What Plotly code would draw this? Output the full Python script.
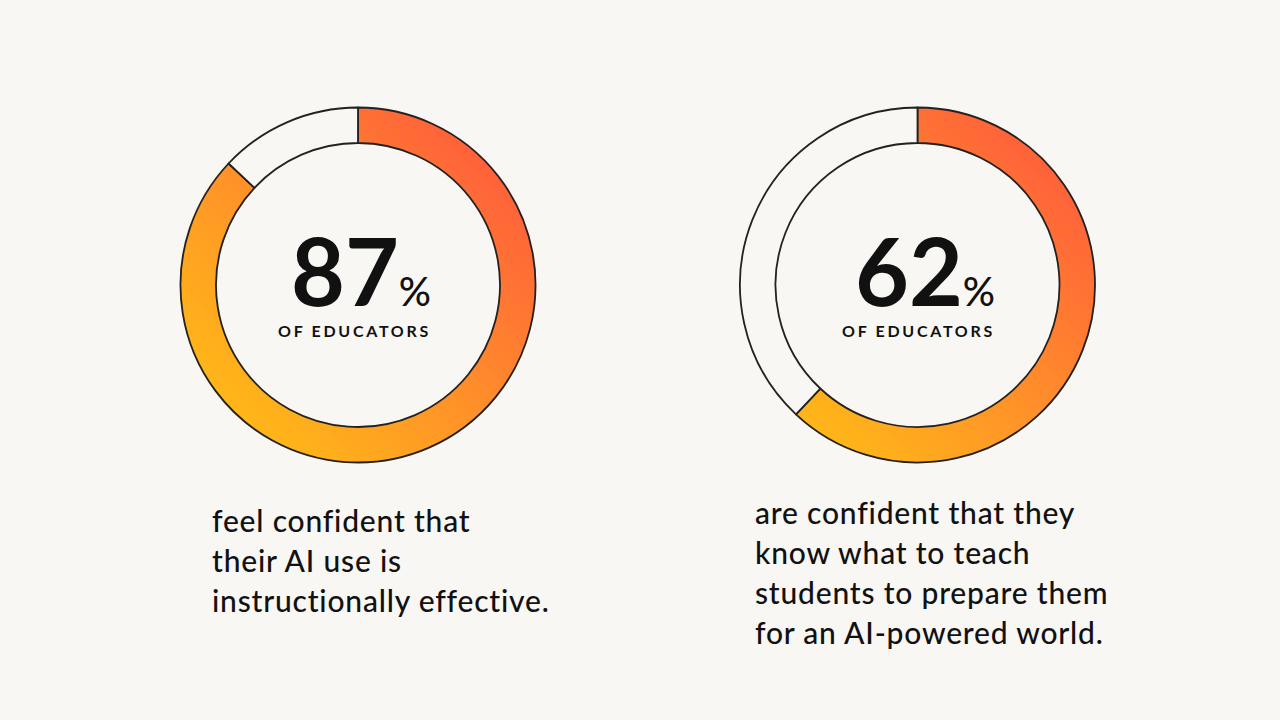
import base64
import struct
import zlib

import numpy as np
import plotly.graph_objects as go

# ---------------- data ----------------
percentages = [87, 62]
big_labels = ["87", "62"]
sub_label = "OF EDUCATORS"
captions = [
    ["feel confident that", "their AI use is", "instructionally effective."],
    ["are confident that they", "know what to teach", "students to prepare them", "for an AI-powered world."],
]

# ---------------- style ----------------
W, H = 1280, 720
BG = "#f8f7f4"
LINE = "#222222"
TXT = "#111111"
FONT = "Lato"
HOLE = 0.80
RADIUS = 177.5
centers = [(358.0, 285.0), (917.5, 285.0)]          # px (x, y from top)
label_x = [361, 925]
label_top = 212
caption_x = [210, 753]
caption_baseline0 = [531, 523]
caption_step = 40
caption_size = 30
grad_stops = [(0.0, (255, 98, 58)), (0.5, (255, 143, 42)), (1.0, (255, 183, 24))]


def px_x(x):
    return x / W


def px_y(y):
    return 1 - y / H


def png_bytes(rgba):
    h, w, _ = rgba.shape
    raw = b"".join(b"\x00" + rgba[i].tobytes() for i in range(h))

    def chunk(tag, data):
        return (struct.pack(">I", len(data)) + tag + data
                + struct.pack(">I", zlib.crc32(tag + data) & 0xFFFFFFFF))

    return (b"\x89PNG\r\n\x1a\n"
            + chunk(b"IHDR", struct.pack(">IIBBBBB", w, h, 8, 6, 0, 0, 0))
            + chunk(b"IDAT", zlib.compress(raw, 9))
            + chunk(b"IEND", b""))


def gradient_ring(radius_px, hole, scale=2):
    n = int(round(2 * radius_px * scale))
    yy, xx = np.mgrid[0:n, 0:n].astype(float) + 0.5
    c = n / 2
    dx = (xx - c) / c
    dy = (yy - c) / c
    r = np.hypot(xx - c, yy - c) / scale
    t = np.clip(((-dx + dy) / np.sqrt(2) + 1) / 2, 0, 1)
    rgb = np.zeros((n, n, 3))
    for ch in range(3):
        rgb[..., ch] = np.interp(t, [s[0] for s in grad_stops], [s[1][ch] for s in grad_stops])
    r_out = radius_px + 0.3
    r_in = radius_px * hole - 0.3
    a = np.clip(r_out - r + 0.5, 0, 1) * np.clip(r - r_in + 0.5, 0, 1)
    rgba = np.dstack([rgb, a * 255]).round().astype(np.uint8)
    return "data:image/png;base64," + base64.b64encode(png_bytes(rgba)).decode()


ring_src = gradient_ring(RADIUS, HOLE)

fig = go.Figure()
images = []
annotations = []

for i, pct in enumerate(percentages):
    cx, cy = centers[i]
    dom_x = [px_x(cx - RADIUS), px_x(cx + RADIUS)]
    dom_y = [px_y(cy + RADIUS), px_y(cy - RADIUS)]
    fig.add_trace(go.Pie(
        values=[pct, 100 - pct],
        labels=["yes", "no"],
        hole=HOLE,
        sort=False,
        direction="clockwise",
        rotation=0,
        textinfo="none",
        hoverinfo="skip",
        showlegend=False,
        marker=dict(colors=["rgba(0,0,0,0)", BG], line=dict(color=LINE, width=1.8)),
        domain=dict(x=dom_x, y=dom_y),
    ))
    images.append(dict(
        source=ring_src, xref="paper", yref="paper",
        x=dom_x[0], y=dom_y[1], sizex=dom_x[1] - dom_x[0], sizey=dom_y[1] - dom_y[0],
        xanchor="left", yanchor="top", sizing="stretch", layer="below",
    ))

    # centre label: big number, % sign, and "OF EDUCATORS" in one text block
    label = (
        f"<span style='font-size:93px;font-weight:700'>{big_labels[i]}</span>"
        f"<span style='font-size:40px;font-weight:500'>%</span><br>"
        f"<span style='font-size:16px;font-weight:700;letter-spacing:2.7px'>{sub_label}\u00a0\u00a0</span>"
    )
    annotations.append(dict(
        text=label, x=px_x(label_x[i]), y=px_y(label_top), xref="paper", yref="paper",
        xanchor="center", yanchor="top", align="center", showarrow=False,
        font=dict(family=FONT, size=23.6, color=TXT),
    ))

# captions
for i, lines in enumerate(captions):
    for j, line in enumerate(lines):
        base = caption_baseline0[i] + j * caption_step
        annotations.append(dict(
            text=f"<span style='letter-spacing:0.8px'>{line}</span>",
            x=px_x(caption_x[i]), y=px_y(base - 0.375 * caption_size),
            xref="paper", yref="paper",
            xanchor="left", yanchor="middle", showarrow=False,
            font=dict(family=FONT, size=caption_size, color=TXT, weight=500),
        ))

fig.update_layout(
    width=W, height=H,
    margin=dict(l=0, r=0, t=0, b=0),
    paper_bgcolor=BG, plot_bgcolor=BG,
    images=images,
    annotations=annotations,
)

fig.write_html(
    "out.html",
    config={"displayModeBar": False},
    post_script="document.body.style.margin='0px';",
)
